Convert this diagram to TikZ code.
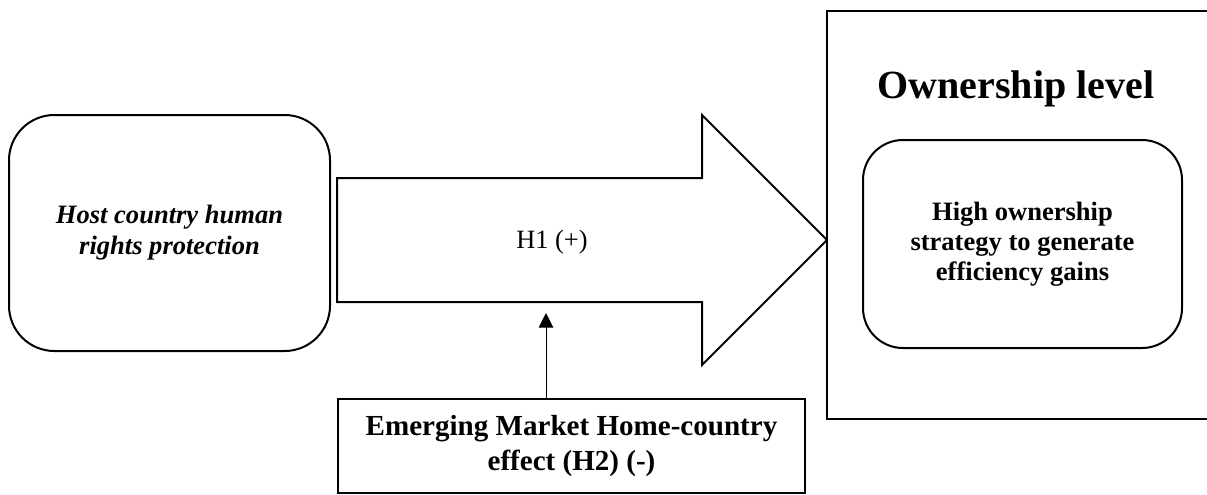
\documentclass[tikz,border=0pt]{standalone}
\usepackage{fontspec}
\setmainfont{Liberation Serif}
\usetikzlibrary{arrows.meta}
\begin{document}
\begin{tikzpicture}[x=0.75pt,y=-0.75pt,
  box/.style={draw, line width=1.5pt, align=center, inner sep=0pt},
  rbox/.style={box, rounded corners=34pt},
  shape line/.style={draw, line width=1.5pt, line join=miter},
  link/.style={line width=0.75pt, -{Triangle[width=11pt,length=11pt]}}]
\useasboundingbox (0,0) rectangle (1207,494);

% left rounded box
\node[rbox, minimum width=240.75pt, minimum height=177pt,
      font=\fontsize{19.9}{23.25}\selectfont\bfseries\itshape] (host) at (169.5,233)
  {Host country human\\rights protection};

% big block arrow
\draw[shape line] (337,178) -- (702,178) -- (702,115) -- (827,240) -- (702,365) -- (702,302) -- (337,302) -- cycle;
\node[font=\fontsize{19.8}{23}\selectfont] (h1) at (552,242) {H1 (+)};
\coordinate (mod) at (546,313);

% outer ownership box (open on the right)
\draw[shape line] (1210,11) -| (827,419) -- (1210,419);
\node[anchor=base, font=\fontsize{30}{35}\selectfont\bfseries] (title) at (1016,98) {Ownership level};

% inner rounded box
\node[rbox, rounded corners=30pt, minimum width=239.25pt, minimum height=156pt,
      font=\fontsize{19.9}{22.5}\selectfont\bfseries] (high) at (1022.5,244)
  {High ownership\\strategy to generate\\efficiency gains};

% bottom moderator box
\node[box, minimum width=350.25pt, minimum height=70.5pt,
      font=\fontsize{21.8}{27}\selectfont\bfseries] (emh) at (571.5,446)
  {Emerging Market Home-country\\effect (H2) (-)};

\draw[link] (emh.north -| mod) -- (mod);
\end{tikzpicture}
\end{document}
